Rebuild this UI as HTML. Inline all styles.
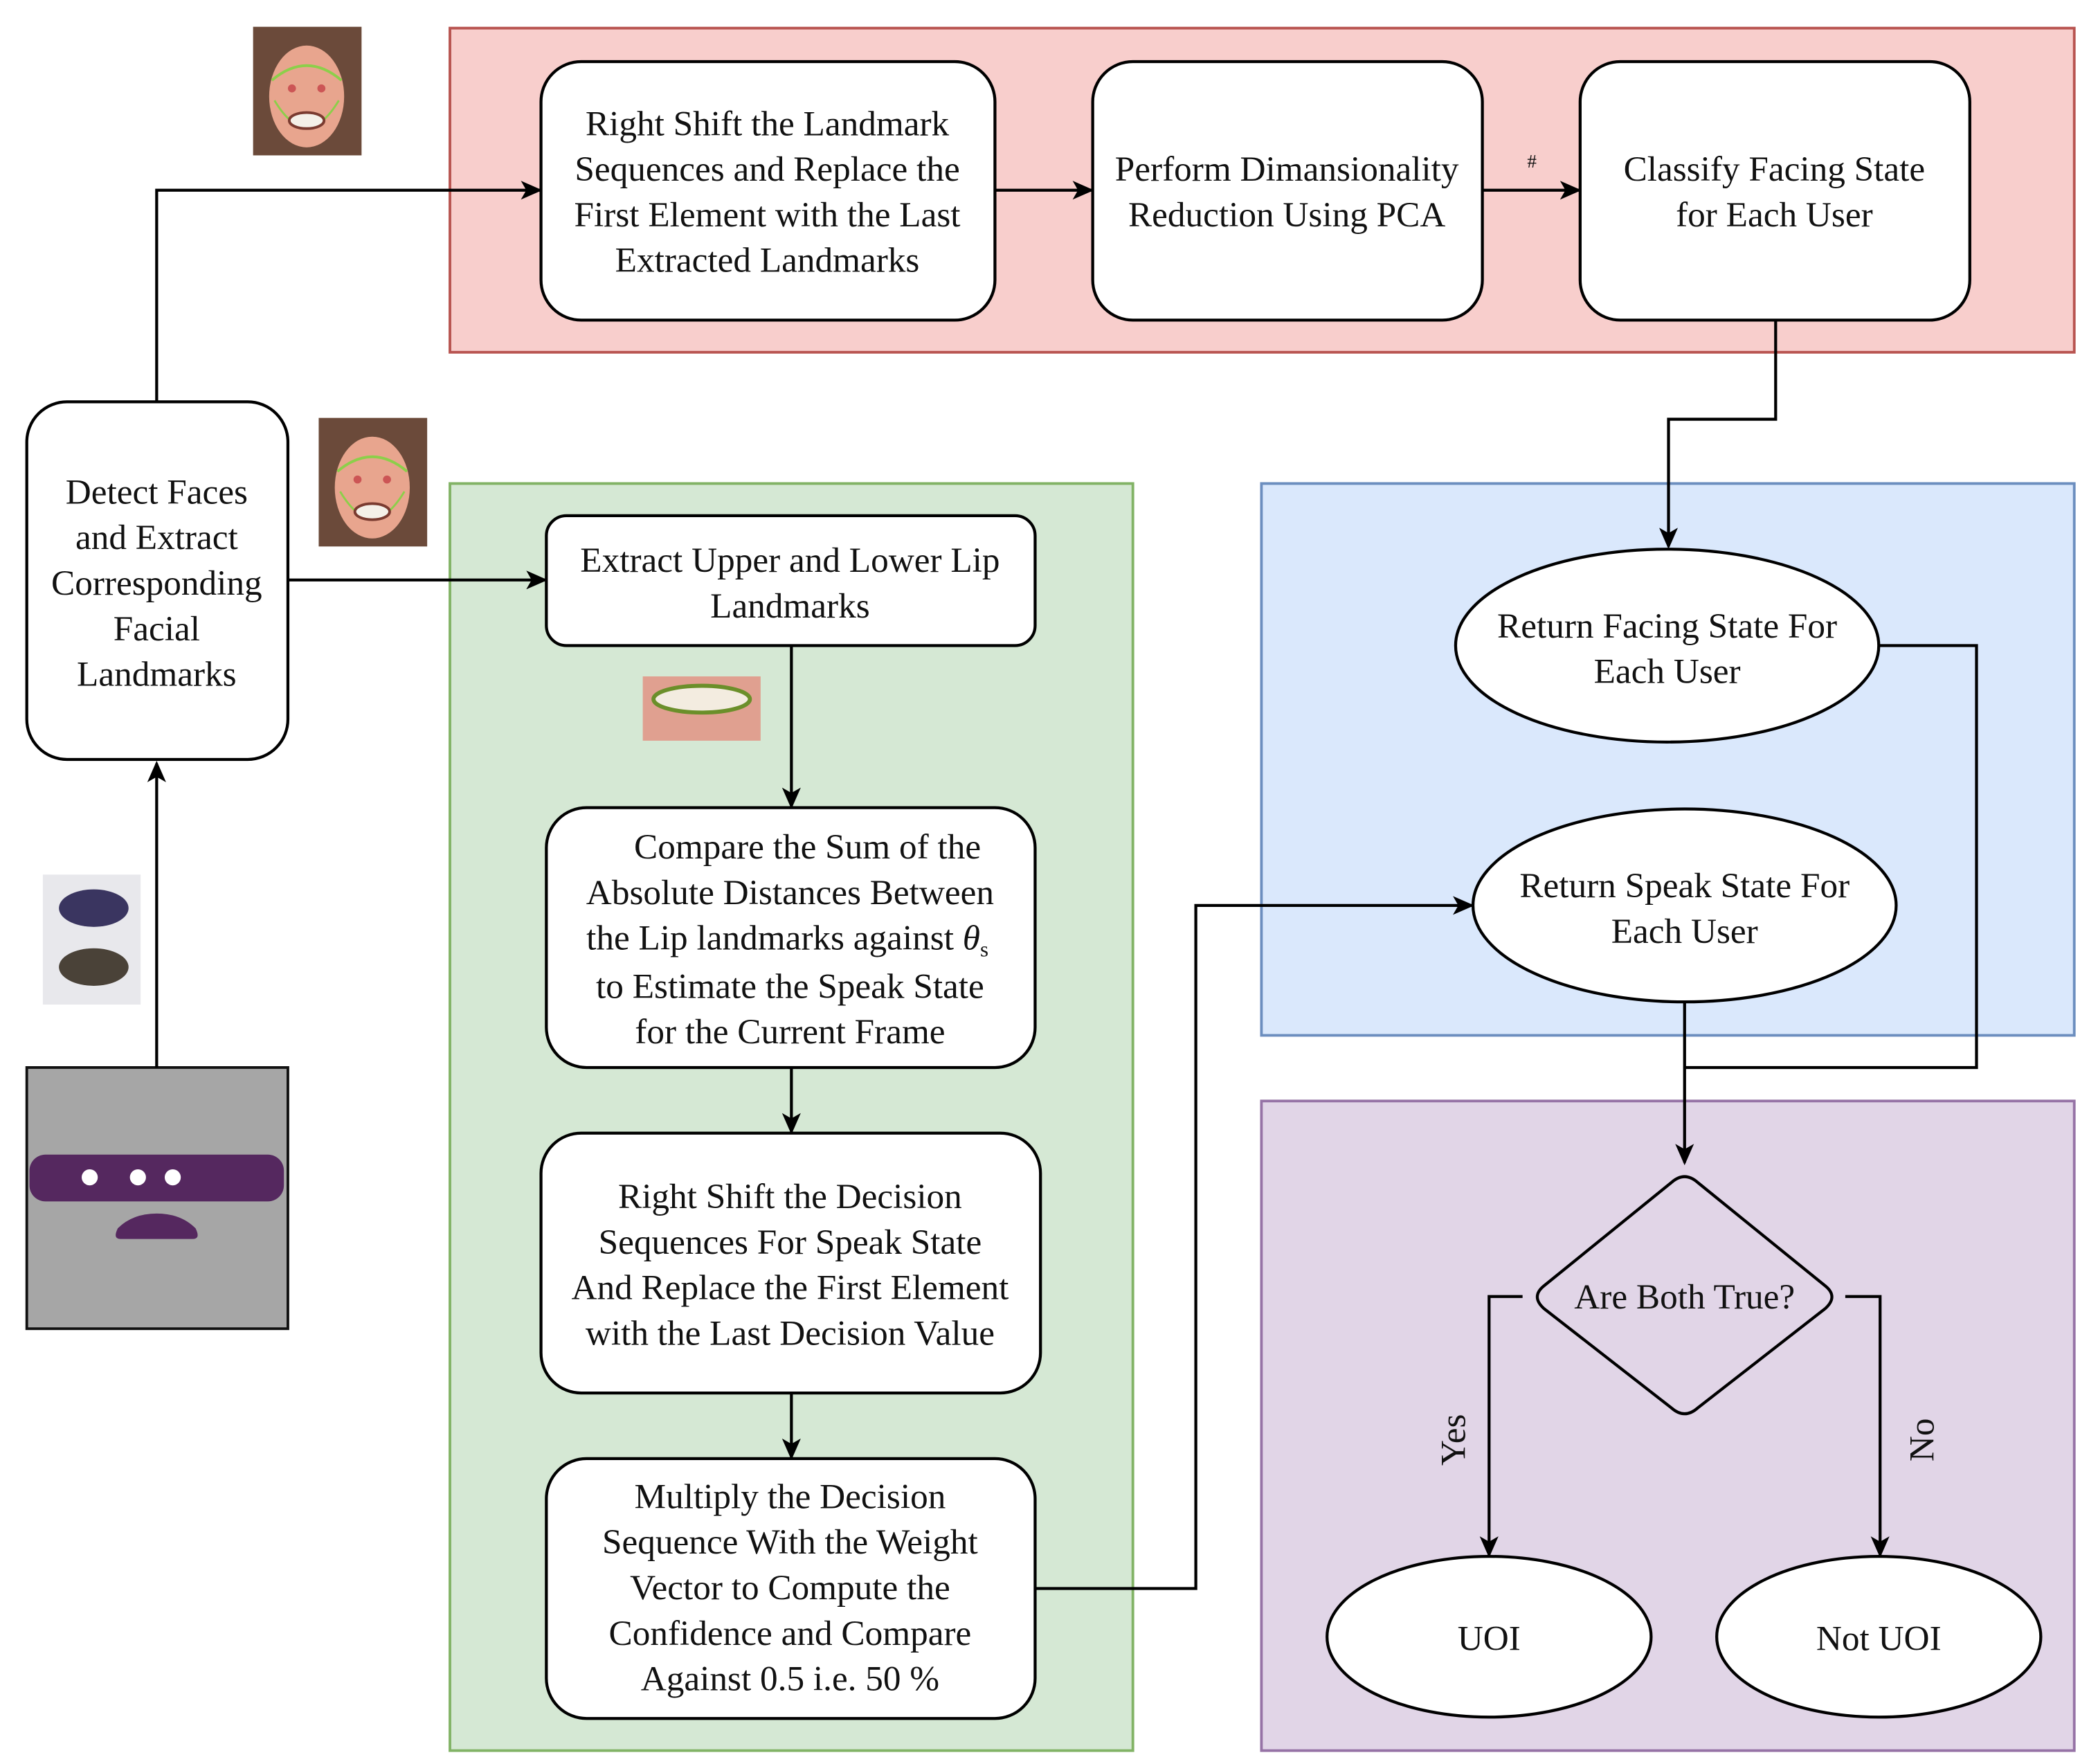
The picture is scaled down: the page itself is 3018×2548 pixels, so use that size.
<!DOCTYPE html>
<html><head><meta charset="utf-8"><style>
html,body{margin:0;padding:0;background:#fff;}
svg{display:block;}
text{font-family:"Liberation Serif",serif;font-size:26.5px;fill:#111;text-anchor:middle;}
</style></head><body>
<svg width="3018" height="2548" viewBox="0 0 1560 1317" preserveAspectRatio="none" xmlns="http://www.w3.org/2000/svg">
<defs>
<marker id="ah" markerWidth="16" markerHeight="16" refX="14" refY="8" orient="auto" markerUnits="userSpaceOnUse" viewBox="0 0 16 16">
<path d="M0,1 L16,8 L0,15 L4,8 z" fill="#000"/></marker>
<g id="face">
<rect x="0" y="0" width="81" height="96" fill="#6b4a3a"/>
<ellipse cx="40" cy="52" rx="28" ry="38" fill="#e8a58e"/>
<path d="M14,40 Q40,18 66,40" stroke="#8ccf4a" stroke-width="2" fill="none"/>
<path d="M16,55 Q40,95 64,55" stroke="#8ccf4a" stroke-width="1.5" fill="none"/>
<ellipse cx="40" cy="70" rx="13" ry="6" fill="#f4f0e8" stroke="#7a3b30" stroke-width="2"/>
<circle cx="29" cy="46" r="3" fill="#c55"/><circle cx="51" cy="46" r="3" fill="#c55"/>
</g>
</defs>
<rect x="336" y="21" width="1213" height="242" fill="#f8cecc" stroke="#b85450" stroke-width="2"/>
<rect x="336" y="361" width="510" height="946" fill="#d5e8d4" stroke="#82b366" stroke-width="2"/>
<rect x="942" y="361" width="607" height="412" fill="#dae8fc" stroke="#6c8ebf" stroke-width="2"/>
<rect x="942" y="822" width="607" height="485" fill="#e1d5e7" stroke="#9673a6" stroke-width="2"/>

<use href="#face" x="189" y="20"/>
<use href="#face" x="238" y="312"/>
<rect x="480" y="505" width="88" height="48" fill="#e0a090"/>
<ellipse cx="524" cy="522" rx="36" ry="10" fill="#f3ece0" stroke="#6b8f2a" stroke-width="3"/>
<rect x="32" y="653" width="73" height="97" fill="#e8e8ec"/>
<ellipse cx="70" cy="678" rx="26" ry="14" fill="#3a3560"/>
<ellipse cx="70" cy="722" rx="26" ry="14" fill="#4a4238"/>
<rect x="20" y="797" width="195" height="195" fill="#a6a6a6" stroke="#111" stroke-width="2"/>
<rect x="22" y="862" width="190" height="35" rx="12" fill="#55285f"/>
<circle cx="67" cy="879" r="6" fill="#fff"/><circle cx="103" cy="879" r="6" fill="#fff"/><circle cx="129" cy="879" r="6" fill="#fff"/>
<path d="M90,925 L144,925 Q150,925 146,917 Q135,906 117,906 Q99,906 88,917 Q84,925 90,925z" fill="#55285f"/>

<g stroke="#000" stroke-width="2.2" fill="none">
<path d="M117,797 V570" marker-end="url(#ah)"/>
<path d="M117,300 V142 H403" marker-end="url(#ah)"/>
<path d="M215,433 H407" marker-end="url(#ah)"/>
<path d="M743,142 H815" marker-end="url(#ah)"/>
<path d="M1107,142 H1179" marker-end="url(#ah)"/>
<path d="M591,482 V602" marker-end="url(#ah)"/>
<path d="M591,797 V845" marker-end="url(#ah)"/>
<path d="M591,1040 V1088" marker-end="url(#ah)"/>
<path d="M773,1186 H893 V676 H1099" marker-end="url(#ah)"/>
<path d="M1326,239 V313 H1246 V408" marker-end="url(#ah)"/>
<path d="M1403,482 H1476 V797 H1258"/>
<path d="M1258,748 V868" marker-end="url(#ah)"/>
<path d="M1137,968 H1112 V1161" marker-end="url(#ah)"/>
<path d="M1378,968 H1404 V1161" marker-end="url(#ah)"/>
</g>

<g fill="#fff" stroke="#000" stroke-width="2.2">
<rect x="20" y="300" width="195" height="267" rx="30"/>
<rect x="404" y="46" width="339" height="193" rx="30"/>
<rect x="816" y="46" width="291" height="193" rx="30"/>
<rect x="1180" y="46" width="291" height="193" rx="30"/>
<rect x="408" y="385" width="365" height="97" rx="15"/>
<rect x="408" y="603" width="365" height="194" rx="30"/>
<rect x="404" y="846" width="373" height="194" rx="30"/>
<rect x="408" y="1089" width="365" height="194" rx="30"/>
<ellipse cx="1245" cy="482" rx="158" ry="72"/>
<ellipse cx="1258" cy="676" rx="158" ry="72"/>
<ellipse cx="1112" cy="1222" rx="121" ry="60"/>
<ellipse cx="1403" cy="1222" rx="121" ry="60"/>
</g>
<path d="M1248,883 Q1258,874 1268,883 L1363,960 Q1373,968 1363,977 L1268,1051 Q1258,1060 1248,1051 L1153,977 Q1143,968 1153,960 Z" fill="none" stroke="#000" stroke-width="2.2"/>

<text x="117" y="376">Detect Faces</text>
<text x="117" y="410">and Extract</text>
<text x="117" y="444">Corresponding</text>
<text x="117" y="478">Facial</text>
<text x="117" y="512">Landmarks</text>

<text x="573" y="101">Right Shift the Landmark</text>
<text x="573" y="135">Sequences and Replace the</text>
<text x="573" y="169">First Element with the Last</text>
<text x="573" y="203">Extracted Landmarks</text>

<text x="961" y="135">Perform Dimansionality</text>
<text x="961" y="169">Reduction Using PCA</text>
<text x="1144" y="125" style="font-size:14px">#</text>

<text x="1325" y="135">Classify Facing State</text>
<text x="1325" y="169">for Each User</text>

<text x="590" y="427">Extract Upper and Lower Lip</text>
<text x="590" y="461">Landmarks</text>

<text x="603" y="641">Compare the Sum of the</text>
<text x="590" y="675">Absolute Distances Between</text>
<text x="588" y="709">the Lip landmarks against <tspan font-style="italic">θ</tspan><tspan font-size="16" dy="5">s</tspan></text>
<text x="590" y="745">to Estimate the Speak State</text>
<text x="590" y="779">for the Current Frame</text>

<text x="590" y="902">Right Shift the Decision</text>
<text x="590" y="936">Sequences For Speak State</text>
<text x="590" y="970">And Replace the First Element</text>
<text x="590" y="1004">with the Last Decision Value</text>

<text x="590" y="1126">Multiply the Decision</text>
<text x="590" y="1160">Sequence With the Weight</text>
<text x="590" y="1194">Vector to Compute the</text>
<text x="590" y="1228">Confidence and Compare</text>
<text x="590" y="1262">Against 0.5 i.e. 50 %</text>

<text x="1245" y="476">Return Facing State For</text>
<text x="1245" y="510">Each User</text>
<text x="1258" y="670">Return Speak State For</text>
<text x="1258" y="704">Each User</text>

<text x="1258" y="977">Are Both True?</text>
<text x="1112" y="1232">UOI</text>
<text x="1403" y="1232">Not UOI</text>
<text x="0" y="0" transform="translate(1094,1075) rotate(-90)">Yes</text>
<text x="0" y="0" transform="translate(1444,1075) rotate(-90)">No</text>
</svg>
</body></html>
